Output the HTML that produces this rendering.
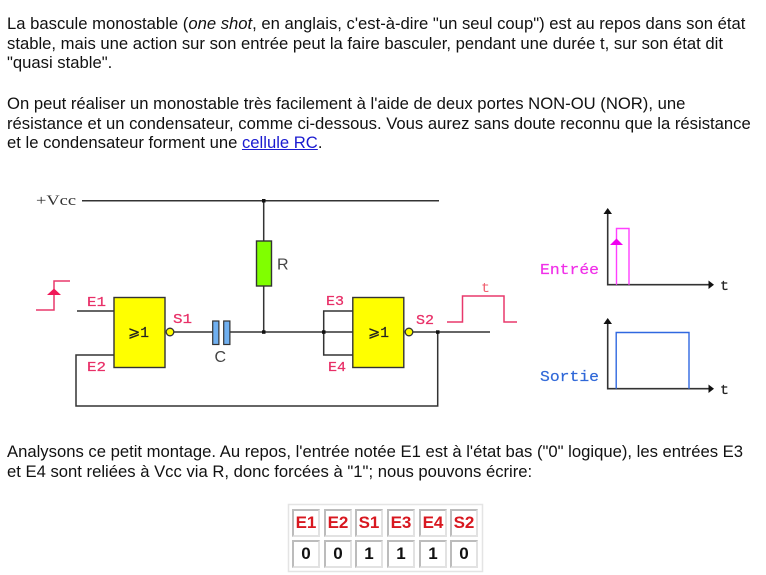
<!DOCTYPE html>
<html><head><meta charset="utf-8">
<style>
html,body{margin:0;padding:0;background:#fff;width:766px;height:575px;overflow:hidden}
.t{position:absolute;left:7px;font:16.65px/20px "Liberation Sans",Arial,sans-serif;color:#111;white-space:nowrap}
a{color:#1a1ad0;text-decoration:underline}
svg{position:absolute;left:0;top:0}
.c{position:absolute;box-sizing:border-box;width:28px;height:28px;border:2px solid;border-color:#bcbcbc #e2e2e2 #e2e2e2 #bcbcbc;font:bold 17px/24px "Liberation Sans",Arial,sans-serif;text-align:center}
.r{color:#d81820}.k{color:#111}
</style></head><body>
<div class="t" style="top:14px">La bascule monostable (<i>one shot</i>, en anglais, c'est-à-dire "un seul coup") est au repos dans son état</div>
<div class="t" style="top:34px">stable, mais une action sur son entrée peut la faire basculer, pendant une durée t, sur son état dit</div>
<div class="t" style="top:53px">"quasi stable".</div>
<div class="t" style="top:94px">On peut réaliser un monostable très facilement à l'aide de deux portes NON-OU (NOR), une</div>
<div class="t" style="top:114px">résistance et un condensateur, comme ci-dessous. Vous aurez sans doute reconnu que la résistance</div>
<div class="t" style="top:133px">et le condensateur forment une <a>cellule RC</a>.</div>
<div class="t" style="top:442px">Analysons ce petit montage. Au repos, l'entrée notée E1 est à l'état bas ("0" logique), les entrées E3</div>
<div class="t" style="top:462px">et E4 sont reliées à Vcc via R, donc forcées à "1"; nous pouvons écrire:</div>

<svg width="766" height="575" viewBox="0 0 766 575" xmlns="http://www.w3.org/2000/svg">
<g fill="none" stroke="#333" stroke-width="1.5">
<path d="M82 200.7H439M263.7 200.7V241M263.7 286V332M174 332H213M230 332H353M77 311H114M114 355H76V406H437.7V332M353 311H323.7V355H353M413 332H490"/>
</g>
<g fill="#111"><rect x="262" y="199" width="3.5" height="3.5"/><rect x="262" y="330.3" width="3.5" height="3.5"/><rect x="322" y="330.3" width="3.5" height="3.5"/><rect x="436" y="330.3" width="3.5" height="3.5"/></g>
<rect x="256.5" y="241" width="15" height="45" fill="#80ff00" stroke="#333" stroke-width="1.4"/>
<rect x="114" y="297.5" width="51" height="70" fill="#ffff00" stroke="#333" stroke-width="1.4"/>
<rect x="352.8" y="297.5" width="51" height="70" fill="#ffff00" stroke="#333" stroke-width="1.4"/>
<circle cx="170" cy="332" r="3.8" fill="#ffff00" stroke="#333" stroke-width="1.3"/>
<circle cx="409" cy="332" r="3.8" fill="#ffff00" stroke="#333" stroke-width="1.3"/>
<rect x="212.7" y="321" width="6.2" height="23.5" fill="#70b0f0" stroke="#333" stroke-width="1.2"/>
<rect x="223.7" y="321" width="6.2" height="23.5" fill="#70b0f0" stroke="#333" stroke-width="1.2"/>
<g fill="none" stroke="#e8386c" stroke-width="1.5">
<path d="M36 310H54V281H70M447 322H462.5V296H504V322H517"/>
</g>
<path d="M54 288.5L61 295H47Z" fill="#f01858"/>
<g fill="none" stroke="#333" stroke-width="1.6"><path d="M607.7 212V284.7H711M607.7 322V388.7H711"/></g>
<path d="M607.7 208L612 214H603.500Z M607.7 318L612 324H603.500Z M714 284.700L708.500 280.500V289Z M714 388.700L708.500 384.500V393Z" fill="#111"/>
<path d="M616.500 284.700V228.500H629V284.700" fill="none" stroke="#ff40ff" stroke-width="1.4"/>
<path d="M616.500 238.500L623 245H610Z" fill="#f000f0"/>
<path d="M616.200 388.700V332.500H689V388.700" fill="none" stroke="#3068e0" stroke-width="1.4"/>
<g font-family="'Liberation Mono',monospace" font-size="14">
<text x="36" y="205" fill="#333" font-size="15" textLength="40" lengthAdjust="spacingAndGlyphs" font-family="'Liberation Serif',serif">+Vcc</text>
<g fill="#e83068" stroke="#e83068" stroke-width=".25">
<text x="87" y="306" textLength="19" lengthAdjust="spacingAndGlyphs">E1</text>
<text x="87" y="371" textLength="19" lengthAdjust="spacingAndGlyphs">E2</text>
<text x="173" y="323" textLength="19" lengthAdjust="spacingAndGlyphs">S1</text>
<text x="326" y="305" textLength="18" lengthAdjust="spacingAndGlyphs">E3</text>
<text x="328" y="371" textLength="18" lengthAdjust="spacingAndGlyphs">E4</text>
<text x="416" y="324" textLength="18" lengthAdjust="spacingAndGlyphs">S2</text>
</g>
<text x="481" y="292" fill="#f06070" textLength="9" lengthAdjust="spacingAndGlyphs">t</text>
<g fill="#222" stroke="#222" stroke-width=".2">
<text x="128" y="337" font-size="15" textLength="21" lengthAdjust="spacingAndGlyphs">⩾1</text>
<text x="368" y="337" font-size="15" textLength="21" lengthAdjust="spacingAndGlyphs">⩾1</text>
<text x="720" y="290" textLength="9" lengthAdjust="spacingAndGlyphs">t</text>
<text x="720" y="394" textLength="9" lengthAdjust="spacingAndGlyphs">t</text>
</g>
<text x="540" y="274" fill="#f030e8" font-size="15" textLength="59" lengthAdjust="spacingAndGlyphs" stroke="#f030e8" stroke-width=".2">Entrée</text>
<text x="540" y="381" fill="#3068d8" font-size="15" textLength="59" lengthAdjust="spacingAndGlyphs" stroke="#3068d8" stroke-width=".2">Sortie</text>
</g>
<g font-family="'Liberation Sans',sans-serif" font-size="16" fill="#444">
<text x="214.500" y="362">C</text>
<text x="277" y="269.500">R</text>
</g>
<rect x="288.500" y="504.500" width="194" height="67" fill="none" stroke="#e4e4e4" stroke-width="1.500"/>
</svg>

<div class="c r" style="left:292px;top:509px">E1</div><div class="c r" style="left:324px;top:509px">E2</div><div class="c r" style="left:355px;top:509px">S1</div><div class="c r" style="left:387px;top:509px">E3</div><div class="c r" style="left:419px;top:509px">E4</div><div class="c r" style="left:450px;top:509px">S2</div>
<div class="c k" style="left:292px;top:540px">0</div><div class="c k" style="left:324px;top:540px">0</div><div class="c k" style="left:355px;top:540px">1</div><div class="c k" style="left:387px;top:540px">1</div><div class="c k" style="left:419px;top:540px">1</div><div class="c k" style="left:450px;top:540px">0</div>
</body></html>
